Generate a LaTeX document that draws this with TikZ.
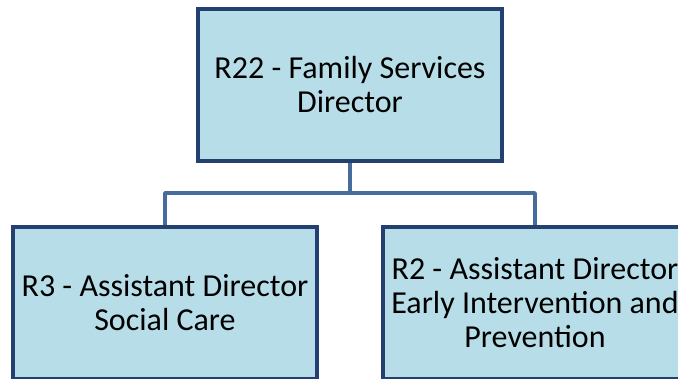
\documentclass[tikz,border=0pt]{standalone}
\usepackage{fontspec}
\setmainfont{Carlito}
\definecolor{boxfill}{RGB}{183,222,232}
\definecolor{boxline}{RGB}{36,64,112}
\definecolor{linkline}{RGB}{70,108,158}
\tikzset{
  post/.style={rectangle,draw=boxline,fill=boxfill,line width=4pt,
    minimum width=304pt,minimum height=152pt,align=center,
    font=\fontsize{32pt}{34pt}\selectfont},
  link/.style={draw=linkline,line width=3.5pt,line join=round}
}
\begin{document}
\begin{tikzpicture}[x=1pt,y=-1pt]
			\useasboundingbox (0,0) rectangle (678,378);
			\clip (0,0) rectangle (678,378);
			\node[post] (fsd) at (350,85) {R22 - Family Services\\Director};
			\node[post] (sc) at (165,303) {R3 - Assistant Director\\Social Care};
			\node[post] (eip) at (535,303) {R2 - Assistant Director\\Early Intervention and\\Prevention};
			\draw[link](fsd.south)--++(0,30)-|(sc.north);
			\draw[link](fsd.south)--++(0,30)-|(eip.north);
		\end{tikzpicture}
\end{document}
